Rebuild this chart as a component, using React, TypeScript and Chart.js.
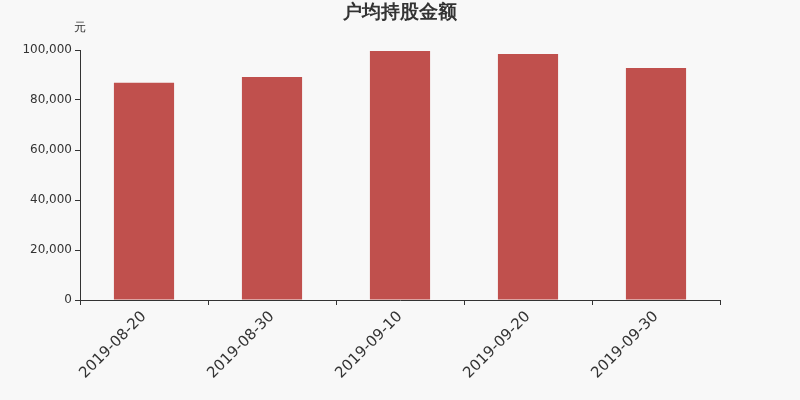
import { useEffect, useRef } from "react"
import { Chart, registerables, type ChartConfiguration, type Plugin } from "chart.js"

Chart.register(...registerables)

// 户均持股金额 (元)
const dates = ["2019-08-20", "2019-08-30", "2019-09-10", "2019-09-20", "2019-09-30"]
const amounts = [86900, 89200, 99600, 98400, 92800]
const yTicks = [0, 20000, 40000, 60000, 80000, 100000]

const FONT = "'DejaVu Sans', sans-serif"

// paint background and the unit label above the y axis
const decor: Plugin<"bar"> = {
  id: "decor",
  beforeDraw: (chart) => {
    const { ctx, width, height } = chart
    ctx.save()
    ctx.fillStyle = "#f8f8f8"
    ctx.fillRect(0, 0, width, height)
    ctx.restore()
  },
  afterDraw: (chart) => {
    const { ctx, chartArea } = chart
    ctx.save()
    ctx.fillStyle = "#333"
    ctx.font = `12px ${FONT}`
    ctx.textAlign = "center"
    ctx.textBaseline = "middle"
    ctx.fillText("元", chartArea.left, 28)
    ctx.restore()
  },
}

export default function App() {
  const canvasRef = useRef<HTMLCanvasElement>(null)
  const chartRef = useRef<Chart | null>(null)

  useEffect(() => {
    if (!canvasRef.current) return
    document.body.style.margin = "0"

    if (chartRef.current) chartRef.current.destroy()

    const config: ChartConfiguration<"bar"> = {
      type: "bar",
      data: {
        labels: dates,
        datasets: [
          {
            label: "户均持股金额",
            data: amounts,
            backgroundColor: "#c0504d",
            barPercentage: 0.47,
            categoryPercentage: 1,
          },
        ],
      },
      options: {
        animation: false,
        responsive: false,
        maintainAspectRatio: false,
        layout: { padding: 0 },
        plugins: {
          legend: { display: false },
          tooltip: { enabled: false },
          title: {
            display: true,
            text: "户均持股金额",
            color: "#333",
            font: { family: FONT, size: 19, weight: "bold" },
            padding: { top: 2.1, bottom: 25.1 },
          },
        },
        scales: {
          x: {
            offset: true,
            grid: {
              offset: true,
              drawOnChartArea: false,
              drawTicks: true,
              tickLength: 5,
              color: "#333",
            },
            border: { display: true, color: "#333" },
            ticks: {
              color: "#333",
              font: { family: FONT, size: 15 },
              minRotation: 45,
              maxRotation: 45,
              padding: 3,
            },
            afterFit: (scale) => {
              scale.height = 100
            },
          },
          y: {
            min: 0,
            max: 100000,
            afterBuildTicks: (scale) => {
              scale.ticks = yTicks.map((v) => ({ value: v }))
            },
            grid: {
              drawOnChartArea: false,
              drawTicks: true,
              tickLength: 5,
              color: "#333",
            },
            border: { display: true, color: "#333" },
            ticks: {
              color: "#333",
              font: { family: FONT, size: 12 },
              padding: 3,
              callback: (v) => Number(v).toLocaleString("en-US"),
            },
            afterFit: (scale) => {
              scale.width = 80
            },
          },
          // empty right margin so the title stays centred on the canvas
          yRight: {
            position: "right",
            grid: { display: false },
            border: { display: false },
            ticks: { display: false },
            afterFit: (scale) => {
              scale.width = 80
            },
          },
        },
      },
      plugins: [decor],
    }

    chartRef.current = new Chart(canvasRef.current, config)

    return () => {
      if (chartRef.current) {
        chartRef.current.destroy()
        chartRef.current = null
      }
    }
  }, [])

  return (
    <div style={{ width: 800, height: 400 }}>
      <canvas ref={canvasRef} width={800} height={400}></canvas>
    </div>
  )
}
